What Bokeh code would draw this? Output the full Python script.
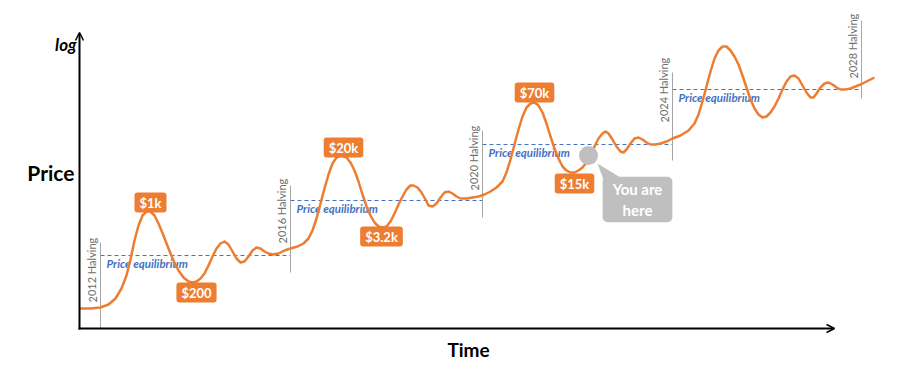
from bokeh.plotting import figure
from bokeh.models import Range1d, Arrow, OpenHead
from bokeh.core.properties import value
from bokeh.embed import file_html
from bokeh.resources import INLINE

# ---- data (time position, log-price level; price axis points downward on screen) ----
time_pts = [79, 90, 100, 108, 115, 121, 126, 130, 134, 138, 142, 146, 150, 154, 158, 163, 168, 173, 178, 183,
            188, 192, 196, 200, 204, 208, 212, 216, 220, 224, 228, 232, 236, 240, 244, 248, 252, 256, 260, 264,
            268, 272, 278, 284, 290, 297, 303, 308, 312, 316, 320, 324, 328, 332, 336, 341, 346, 350, 354, 358,
            362, 366, 370, 374, 378, 382, 386, 390, 394, 398, 402, 406, 410, 413, 417, 421, 425, 428, 432, 436,
            440, 444, 448, 452, 456, 460, 466, 472, 478, 484, 490, 496, 502, 506, 510, 514, 518, 522, 526, 530,
            534, 538, 542, 546, 550, 554, 558, 562, 566, 570, 574, 578, 582, 586, 590, 594, 598, 602, 605, 608,
            612, 616, 620, 623, 626, 630, 634, 638, 642, 646, 650, 655, 660, 666, 672, 680, 688, 694, 698, 702,
            706, 710, 714, 718, 722, 726, 730, 734, 738, 742, 746, 750, 754, 758, 762, 766, 770, 774, 778, 782,
            786, 790, 794, 798, 802, 806, 810, 813, 816, 820, 824, 828, 832, 836, 840, 845, 850, 855, 860, 866, 874]
price_pts = [308, 308, 307, 304, 298, 288, 275, 259, 240, 225, 215, 211, 211, 215, 223, 235, 248, 260, 270, 277,
             281, 282, 281, 278, 273, 265, 256, 248, 243, 241, 244, 251, 258, 262, 261, 256, 250, 247, 248, 251,
             253, 254, 253, 250, 248, 246, 243, 238, 230, 218, 203, 188, 174, 163, 157, 155, 157, 162, 170, 181,
             194, 206, 215, 222, 226, 227, 226, 221, 213, 204, 196, 189, 185, 185, 187, 192, 199, 205, 206, 203,
             197, 192, 191, 193, 196, 198, 198, 197, 196, 194, 191, 187, 181, 172, 159, 144, 129, 116, 107, 103,
             102, 105, 112, 123, 136, 148, 158, 166, 170, 172, 172, 170, 167, 162, 155, 146, 138, 133, 131, 133,
             139, 146, 151, 152, 149, 143, 138, 137, 139, 142, 144, 144, 143, 141, 138, 135, 130, 123, 114, 101,
             86, 71, 58, 50, 46, 46, 50, 56, 64, 75, 87, 99, 108, 114, 117, 116, 112, 106, 98, 89,
             81, 76, 75, 78, 85, 92, 97, 97, 93, 87, 83, 82, 84, 87, 89, 89, 88, 86, 84, 81, 77]

halving_labels = ["2012 Halving", "2016 Halving", "2020 Halving", "2024 Halving", "2028 Halving"]
halving_time = [100, 290, 482, 672, 861]
halving_top = [242, 185, 130, 72, 20]
halving_bottom = [328, 272, 217, 160, 98]
halving_text_start = [302, 243, 190, 122, 78]

eq_start = [100, 290, 482, 672]
eq_end = [290, 482, 672, 861]
eq_level = [255, 200, 144, 89]

price_labels = ["$1k", "$200", "$20k", "$3.2k", "$70k", "$15k"]
price_label_time = [150, 196, 343, 381, 534, 574]
price_label_level = [202, 292, 147, 236, 92, 183]

here_time, here_level = 588, 155

FONT = value("Lato")
ORANGE = "#ED7D31"
BLUE = "#4472C4"
GRAY = "#A6A6A6"

p = figure(width=922, height=376, x_range=Range1d(0, 922), y_range=Range1d(376, 0),
           output_backend="svg", toolbar_location=None, min_border=0,
           x_axis_type=None, y_axis_type=None, outline_line_color=None,
           background_fill_color="white", border_fill_color="white")
p.grid.visible = False

# equilibrium lines
p.segment(x0=eq_start, y0=eq_level, x1=eq_end, y1=eq_level, line_color=BLUE,
          line_dash="4 3", line_width=1)
p.segment(x0=[79], y0=[308], x1=[100], y1=[308], line_color="#8496B0", line_dash="4 3", line_width=1)
p.text(x=[s + 6 for s in eq_start], y=[l + 8 for l in eq_level], text=["Price equilibrium"] * 4,
       text_font=FONT, text_font_style="bold italic", text_font_size="11.5px", text_color=BLUE,
       text_baseline="middle", text_align="left")

# halving lines
p.segment(x0=halving_time, y0=halving_top, x1=halving_time, y1=halving_bottom,
          line_color=GRAY, line_width=1)
p.text(x=[h - 2 for h in halving_time], y=halving_text_start, text=halving_labels, angle=1.5708,
       text_font=FONT, text_font_size="11px", text_color="#707070",
       text_baseline="bottom", text_align="left")

# price curve
p.line(time_pts, price_pts, line_color=ORANGE, line_width=2.5, line_join="round")

# price labels
p.text(x=price_label_time, y=price_label_level, text=price_labels, text_font=FONT,
       text_font_style="bold", text_font_size="13px", text_color="white",
       text_align="center", text_baseline="middle",
       background_fill_color=ORANGE, padding=[5, 2], border_radius=3)

# you are here
p.patch(x=[here_time + 9, here_time + 16, here_time + 40], y=[here_level + 8, here_level + 27, here_level + 27],
        fill_color="#BFBFBF", line_color=None)
p.scatter(x=[here_time], y=[here_level], size=19, fill_color="#BFBFBF", line_color=None)
p.text(x=[here_time + 49], y=[here_level + 44], text=["You are\nhere"], text_font=FONT,
       text_font_style="bold", text_font_size="15px", text_color="white",
       text_align="center", text_baseline="middle", text_line_height=1.2,
       background_fill_color="#BFBFBF", padding=[10, 3], border_radius=5)

# axes drawn as arrows
p.add_layout(Arrow(end=OpenHead(size=8, line_width=1.5, line_color="black"),
                   x_start=79, y_start=329, x_end=79, y_end=32, line_width=2, line_color="black"))
p.add_layout(Arrow(end=OpenHead(size=8, line_width=1.5, line_color="black"),
                   x_start=78, y_start=328, x_end=834, y_end=328, line_width=2, line_color="black"))

p.text(x=[76], y=[44], text=["log"], text_font=FONT, text_font_style="bold italic",
       text_font_size="17px", text_color="black", text_align="right", text_baseline="middle")
p.text(x=[74], y=[172], text=["Price"], text_font=FONT, text_font_style="bold",
       text_font_size="21px", text_color="black", text_align="right", text_baseline="middle")
p.text(x=[468], y=[349], text=["Time"], text_font=FONT, text_font_style="bold",
       text_font_size="19px", text_color="black", text_align="center", text_baseline="middle")

open("out.html", "w").write(file_html(p, INLINE))
